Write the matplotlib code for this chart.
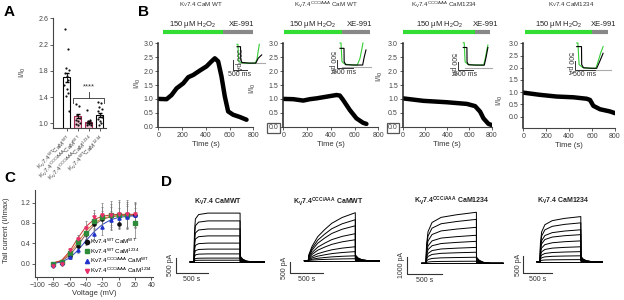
import numpy as np
import matplotlib
matplotlib.use("Agg")
import matplotlib.pyplot as plt
import matplotlib.transforms as mtransforms
from matplotlib.lines import Line2D

W, H = 624, 300

plt.rcParams.update({
    "font.family": ["Liberation Sans", "DejaVu Sans"],
    "mathtext.fontset": "custom",
    "mathtext.rm": "Liberation Sans",
    "mathtext.it": "Liberation Sans:italic",
    "mathtext.bf": "Liberation Sans:bold",
    "mathtext.default": "regular",
    "font.size": 5,
    "axes.linewidth": 0.8,
    "axes.edgecolor": "#444444",
    "xtick.major.size": 2, "ytick.major.size": 2,
    "xtick.major.width": 0.6, "ytick.major.width": 0.6,
    "xtick.major.pad": 1.5, "ytick.major.pad": 1.5,
    "xtick.color": "#444444", "ytick.color": "#444444",
    "xtick.labelsize": 5, "ytick.labelsize": 5,
    "axes.labelsize": 5.5, "axes.labelcolor": "#333333",
})

# ---------------- data: panel A ----------------
a_labels = ["K$_V$7.4$^{WT}$CaM$^{WT}$", "K$_V$7.4$^{CCC/AAA}$CaM$^{WT}$",
            "K$_V$7.4$^{CCC/AAA}$CaM$^{1234}$", "K$_V$7.4$^{WT}$CaM$^{1234}$"]
a_means = [1.70, 1.11, 1.02, 1.13]
a_sem = [0.07, 0.03, 0.02, 0.03]
a_points = [
    [2.43, 2.13, 1.84, 1.81, 1.77, 1.72, 1.66, 1.58, 1.53, 1.46, 1.41, 1.19],
    [1.30, 1.26, 1.12, 1.08, 1.05, 1.03, 1.01, 0.99, 0.98],
    [1.20, 1.05, 1.03, 1.01, 1.00, 0.99, 0.98, 0.97],
    [1.32, 1.31, 1.25, 1.22, 1.18, 1.12, 1.10, 1.06, 1.03, 1.00, 0.98],
]
a_jitter = [-0.2, 0.15, -0.05, 0.22, -0.15, 0.05, 0.18, -0.22, 0.0, 0.1, -0.1, 0.2]

# ---------------- data: panel B ----------------
b_titles = ["K$_V$7.4 CaM WT", "K$_V$7.4$^{CCC/AAA}$ CaM WT",
            "K$_V$7.4$^{CCC/AAA}$ CaM1234", "K$_V$7.4 CaM1234"]
b_time = [
    [0, 70, 112, 154, 210, 252, 294, 350, 406, 448, 476, 504, 532, 560, 588, 630, 686, 743],
    [0, 84, 168, 224, 280, 336, 392, 448, 476, 504, 560, 616, 672, 700],
    [0, 186, 396, 577, 651, 696, 726, 771, 800],
    [0, 145, 291, 436, 553, 582, 611, 669, 756, 800],
]
b_ratio = [
    [1.0, 0.99, 1.14, 1.38, 1.56, 1.78, 1.86, 2.02, 2.17, 2.35, 2.46, 2.35, 1.81, 1.09, 0.55, 0.43, 0.35, 0.25],
    [1.0, 0.99, 0.94, 0.99, 1.02, 1.06, 1.10, 1.14, 1.12, 0.96, 0.60, 0.30, 0.14, 0.10],
    [1.02, 0.93, 0.88, 0.82, 0.74, 0.54, 0.30, 0.10, 0.06],
    [0.98, 0.89, 0.82, 0.79, 0.73, 0.68, 0.44, 0.30, 0.21, 0.14],
]
b_h2o2 = [(40, 543), (6, 493), (3, 651), (15, 600)]
b_xe = [(543, 795), (493, 728), (651, 786), (600, 740)]

# inset traces (ms, pA)
ins_green_t = [[0, 30, 60, 150, 350, 620, 680, 720, 760],
               [0, 30, 60, 150, 350, 520, 600, 650, 690],
               [0, 30, 60, 150, 350, 680, 730, 780, 820],
               [0, 30, 60, 150, 300, 480, 540, 600, 660]]
ins_green_i = [[950, 950, 80, 30, 10, 10, 200, 600, 950],
               [1420, 1420, 300, 150, 110, 100, 500, 1000, 1420],
               [1600, 1600, 400, 250, 210, 200, 600, 1100, 1450],
               [1500, 1500, 300, 140, 100, 95, 500, 950, 1300]]
ins_black_t = [[0, 120, 125, 170, 400, 640, 720, 840],
               [0, 120, 125, 170, 400, 680, 730, 780],
               [0, 120, 125, 170, 400, 700, 760, 820],
               [0, 120, 125, 170, 400, 500, 580, 660]]
ins_black_i = [[830, 830, 200, 40, 10, 10, 250, 420],
               [1100, 1100, 300, 120, 100, 100, 600, 1000],
               [1300, 1300, 400, 220, 200, 200, 700, 1300],
               [1300, 1300, 300, 120, 95, 95, 500, 930]]

# ---------------- data: panel C ----------------
c_volt = [-80, -70, -60, -50, -40, -30, -20, -10, 0, 10, 20]
c_names = ["Kv7.4$^{WT}$ CaM$^{WT}$", "Kv7.4$^{WT}$ CaM$^{1234}$",
           "Kv7.4$^{CCC/AAA}$ CaM$^{WT}$", "Kv7.4$^{CCC/AAA}$ CaM$^{1234}$"]
c_mean = [
    [0.00, 0.03, 0.15, 0.35, 0.58, 0.78, 0.88, 0.93, 0.77, 0.95, 0.95],
    [0.00, 0.03, 0.20, 0.42, 0.61, 0.84, 0.92, 0.95, 0.96, 0.96, 0.80],
    [-0.02, 0.02, 0.12, 0.26, 0.45, 0.59, 0.72, 0.85, 0.90, 0.92, 0.95],
    [-0.05, -0.01, 0.26, 0.48, 0.71, 0.91, 0.95, 0.96, 0.97, 0.97, 0.97],
]
c_err = [
    [0.03, 0.03, 0.05, 0.08, 0.10, 0.12, 0.15, 0.18, 0.05, 0.22, 0.22],
    [0.03, 0.03, 0.05, 0.08, 0.12, 0.15, 0.20, 0.22, 0.25, 0.25, 0.30],
    [0.03, 0.03, 0.04, 0.06, 0.08, 0.12, 0.15, 0.18, 0.20, 0.22, 0.25],
    [0.03, 0.03, 0.05, 0.08, 0.12, 0.15, 0.25, 0.28, 0.28, 0.28, 0.25],
]
c_fit = [
    [0.01, 0.05, 0.16, 0.36, 0.58, 0.76, 0.87, 0.92, 0.94, 0.95, 0.95],
    [0.01, 0.06, 0.20, 0.42, 0.64, 0.80, 0.89, 0.93, 0.95, 0.96, 0.96],
    [0.00, 0.03, 0.11, 0.26, 0.45, 0.63, 0.77, 0.86, 0.91, 0.93, 0.94],
    [0.01, 0.06, 0.24, 0.50, 0.73, 0.87, 0.93, 0.96, 0.97, 0.97, 0.97],
]
c_colors = ["#111111", "#2e8b3a", "#2233cc", "#e8306a"]
c_fit_colors = ["#8a5a5a", "#d08030", "#3344bb", "#cc3333"]
c_markers = ["o", "s", "^", "v"]

# ---------------- data: panel D ----------------
d_titles = ["K$_V$7.4 CaMWT", "K$_V$7.4$^{CCC/AAA}$ CaMWT",
            "K$_V$7.4$^{CCC/AAA}$ CaM1234", "K$_V$7.4 CaM1234"]
d_amps = [
    [1630, 1370, 1100, 870, 630, 430, 270, 130, 60, 0],
    [2060, 1760, 1500, 1160, 900, 600, 390, 210, 85, 0],
    [2950, 2540, 2080, 1620, 1270, 920, 640, 350, 120, 0],
    [1300, 1120, 920, 780, 600, 430, 290, 170, 60, 0],
]
# activation time course: fraction of the step, fraction of final amplitude
d_act_f = [[0, 0.01, 0.03, 0.1, 0.3, 1.0],
           [0, 0.01, 0.08, 0.2, 0.35, 0.5, 0.72, 1.0],
           [0, 0.01, 0.04, 0.12, 0.3, 0.6, 1.0],
           [0, 0.01, 0.04, 0.12, 0.3, 0.6, 1.0]]
d_act_v = [[0, 0.6, 0.88, 0.97, 1.0, 1.0],
           [0, 0.12, 0.3, 0.5, 0.65, 0.78, 0.9, 1.0],
           [0, 0.35, 0.62, 0.8, 0.9, 0.95, 1.0],
           [0, 0.4, 0.66, 0.82, 0.91, 0.96, 1.0]]
d_tail_t = [0, 2, 40, 100, 200]
d_tail_v = [1.0, 0.12, 0.06, 0.02, 0.0]
d_step = 720
d_pre, d_post = -60, 1100
d_vbar = [500, 500, 1000, 500]

fig = plt.figure(figsize=(W / 100, H / 100), dpi=100)


def px_axes(x0, y0, x1, y1):
    return fig.add_axes([x0 / W, 1 - y1 / H, (x1 - x0) / W, (y1 - y0) / H])


def scaled_axes(box, origin, sx, sy):
    x0, y0, x1, y1 = box
    ox, oy = origin
    ax = px_axes(*box)
    ax.set_xlim((x0 - ox) / sx, (x1 - ox) / sx)
    ax.set_ylim((oy - y1) / sy, (oy - y0) / sy)
    ax.axis("off")
    return ax


def style(ax):
    ax.spines["top"].set_visible(False)
    ax.spines["right"].set_visible(False)


def panel_letter(x, y, s):
    fig.text(x / W, 1 - y / H, s, fontsize=11, fontweight="bold", va="center", ha="left")


# ---------------- panel A ----------------
axA = px_axes(53.3, 18.3, 106, 128.3)
xa = np.arange(len(a_means))
axA.bar(xa, a_means, width=0.63, color=["white", "#f3c8d4", "#f3c8d4", "white"],
        edgecolor=["black", "#a3284f", "#a3284f", "black"], linewidth=0.8, zorder=1)
axA.errorbar(xa, a_means, yerr=a_sem, fmt="none", ecolor="k", elinewidth=0.6, capsize=1.2, zorder=2)
for i, pts in enumerate(a_points):
    axA.scatter(i + np.array(a_jitter[:len(pts)]) * 0.9, pts, s=2.5, color="#111111", zorder=3, linewidths=0)
y_br = max(max(p) for p in a_points[1:]) + 0.06
axA.plot([xa[1] - 0.45, xa[1] - 0.45, xa[3] + 0.4, xa[3] + 0.4], [y_br - 0.07, y_br, y_br, y_br - 0.07],
         color="#333333", lw=0.6)
axA.plot([1.98, 1.98], [y_br, y_br + 0.1], color="#333333", lw=0.6)
axA.text(1.98, y_br + 0.17, "****", ha="center", va="center", fontsize=5.5, color="#333333")
axA.set_xlim(-1.2, 3.55)
axA.set_ylim(0.924, 2.6)
axA.set_yticks([1.0, 1.4, 1.8, 2.2, 2.6], ["1.0", "1.4", "1.8", "2.2", "2.6"])
axA.set_xticks(xa)
axA.set_xticklabels(a_labels, rotation=45, ha="right", rotation_mode="anchor", fontsize=4.5)
axA.set_ylabel("I/I$_0$")
axA.yaxis.set_label_coords(-0.48, 0.51)
style(axA)
panel_letter(4, 12, "A")

# ---------------- panel B ----------------
b_box = [(158.3, 43.3, 253.3, 126.7), (283.3, 43.3, 378.3, 126.7),
         (402.7, 43.3, 491.7, 126.7), (523.3, 43.3, 615, 128.3)]
b_ylim = [(0, 3.0), (0, 3.0), (0, 3.0), (-0.48, 3.0)]
b_title_x = [201, 326, 444, 571]
b_ylab = [(-0.16, 0.52), (-0.27, 0.46), (-0.2, 0.6), (-0.2, 0.33)]
b_ins_box = [(222, 36, 272, 80), (320, 36, 372, 82), (444, 36, 496, 82), (562, 36, 612, 84)]
b_ins_origin = [(237, 63.3), (340, 66.7), (463.3, 68.3), (576.7, 70)]
b_ins_scale = [(0.0294, 0.02), (0.0333, 0.0167), (0.03, 0.016), (0.04, 0.018)]
b_ins_bar = [(-146, -335), (-100, -96), (-167, -106), (-45, -20)]

for i in range(4):
    x0, y0, x1, y1 = b_box[i]
    ax = px_axes(x0, y0, x1, y1)
    ax.plot(b_time[i], b_ratio[i], color="black", lw=3.2, solid_capstyle="round", solid_joinstyle="round")
    ax.set_xlim(0, 800)
    ax.set_ylim(*b_ylim[i])
    ax.set_xticks([0, 200, 400, 600, 800])
    yt = [0.0, 0.5, 1.0, 1.5, 2.0, 2.5, 3.0]
    ax.set_yticks(yt, ["%.1f" % v for v in yt])
    ax.set_xlabel("Time (s)", labelpad=1.5)
    ax.set_ylabel("I/I$_0$")
    ax.yaxis.set_label_coords(*b_ylab[i])
    ax.spines["left"].set_color("#222222")
    ax.spines["left"].set_linewidth(1.1)
    style(ax)
    if i in (1, 2):
        ax.get_yticklabels()[0].set_bbox(dict(boxstyle="square,pad=0.2", fc="none", ec="#555555", lw=0.9))
    trans = mtransforms.blended_transform_factory(ax.transData, ax.transAxes)
    yb = (y1 - 32.3) / (y1 - y0)
    yt_txt = (y1 - 25) / (y1 - y0)
    ax.plot(b_h2o2[i], [yb, yb], color="#33dd33", lw=3, transform=trans, clip_on=False, solid_capstyle="butt")
    ax.plot(b_xe[i], [yb, yb], color="#888888", lw=3, transform=trans, clip_on=False, solid_capstyle="butt")
    ax.text(sum(b_h2o2[i]) / 2, yt_txt, "150 \u00b5M H$_2$O$_2$", transform=trans, ha="center", va="center",
            fontsize=5.5, color="#222222")
    ax.text(sum(b_xe[i]) / 2 + 30, yt_txt, "XE-991", transform=trans, ha="center", va="center",
            fontsize=5.5, color="#222222")
    fig.text(b_title_x[i] / W, 1 - 5 / H, b_titles[i], ha="center", va="center", fontsize=4.5, color="#333333")

    # inset
    sx, sy = b_ins_scale[i]
    axi = scaled_axes(b_ins_box[i], b_ins_origin[i], sx, sy)
    axi.plot([50, 950], [0, 0], color="#aaaaaa", lw=0.8)
    axi.plot(ins_green_t[i], ins_green_i[i], color="#33cc33", lw=0.8)
    axi.plot(ins_black_t[i], ins_black_i[i], color="black", lw=0.8)
    bx, by = b_ins_bar[i]
    axi.plot([bx, bx, bx + 500], [by + 500, by, by], color="#333333", lw=0.7)
    axi.text(bx + 250, by - 40, "500 ms", ha="center", va="top", fontsize=5, color="#333333")
    if i == 0:
        axi.text(bx + 60, by + 500, "500 pA", rotation=270, ha="left", va="center", fontsize=5, color="#333333")
    else:
        axi.text(bx - 60, by + 400, "500 pA", rotation=270, ha="right", va="center", fontsize=5, color="#333333")

panel_letter(138, 12, "B")

# ---------------- panel C ----------------
axC = px_axes(35.4, 190, 153, 276.7)
for k in range(4):
    axC.plot(c_volt, c_fit[k], color=c_fit_colors[k], lw=0.7, zorder=1)
    axC.errorbar(c_volt, c_mean[k], yerr=c_err[k], fmt=c_markers[k], color=c_colors[k], ms=2.3,
                 ecolor="#777777", elinewidth=0.5, capsize=1, capthick=0.5, zorder=2)
axC.set_xlim(-102, 42)
axC.set_ylim(-0.26, 1.45)
axC.set_xticks([-100, -80, -60, -40, -20, 0, 20, 40])
axC.set_yticks([0.0, 0.4, 0.8, 1.2], ["0.0", "0.4", "0.8", "1.2"])
axC.set_xlabel("Voltage (mV)", labelpad=1)
axC.set_ylabel("Tail current (I/Imax)")
axC.yaxis.set_label_coords(-0.22, 0.54)
style(axC)
handles = [Line2D([], [], ls="none", marker=c_markers[k], color=c_colors[k], ms=3) for k in range(4)]
axC.legend(handles, c_names, loc="lower left", bbox_to_anchor=(0.42, 0.02), fontsize=4.5, frameon=False,
           handlelength=0.6, handletextpad=0.3, labelspacing=0.05, borderpad=0, borderaxespad=0)
panel_letter(4, 178, "C")

# ---------------- panel D ----------------
d_box = [(166, 205, 272, 290), (280, 205, 380, 290), (396, 205, 504, 290), (512, 205, 612, 290)]
d_origin = [(194, 262), (308.3, 260.7), (426, 263.3), (540, 261.7)]
d_scale = [(0.064, 0.03), (0.0653, 0.0233), (0.07, 0.0173), (0.0567, 0.0347)]
d_bar_px = [(176, 272.7), (290, 273.3), (406.7, 274), (523.3, 273.3)]
d_title = [(218, 202), (328, 202), (452, 201), (563, 201)]

for i in range(4):
    sx, sy = d_scale[i]
    ox, oy = d_origin[i]
    ax = scaled_axes(d_box[i], d_origin[i], sx, sy)
    for a in d_amps[i]:
        t = [d_pre] + [f * d_step for f in d_act_f[i]] + [d_step + tt for tt in d_tail_t] + [d_post]
        y = [0] + [a * v for v in d_act_v[i]] + [a * v for v in d_tail_v] + [0]
        ax.plot(t, y, color="black", lw=0.7)
    bx = (d_bar_px[i][0] - ox) / sx
    by = (oy - d_bar_px[i][1]) / sy
    vb = d_vbar[i]
    ax.plot([bx, bx, bx + 500], [by + vb, by, by], color="#333333", lw=0.8)
    ax.text(bx + 250, by - 3 / sy, "500 s", ha="center", va="top", fontsize=5, color="#333333")
    ax.text(bx - 1.5 / sx, by + vb / 2, "%d pA" % vb, rotation=90, ha="right", va="center", fontsize=5,
            color="#333333")
    fig.text(d_title[i][0] / W, 1 - d_title[i][1] / H, d_titles[i], ha="center", va="center",
             fontsize=5, fontweight="bold", color="#222222")

panel_letter(161, 182, "D")

fig.savefig("out.png", dpi=100)
